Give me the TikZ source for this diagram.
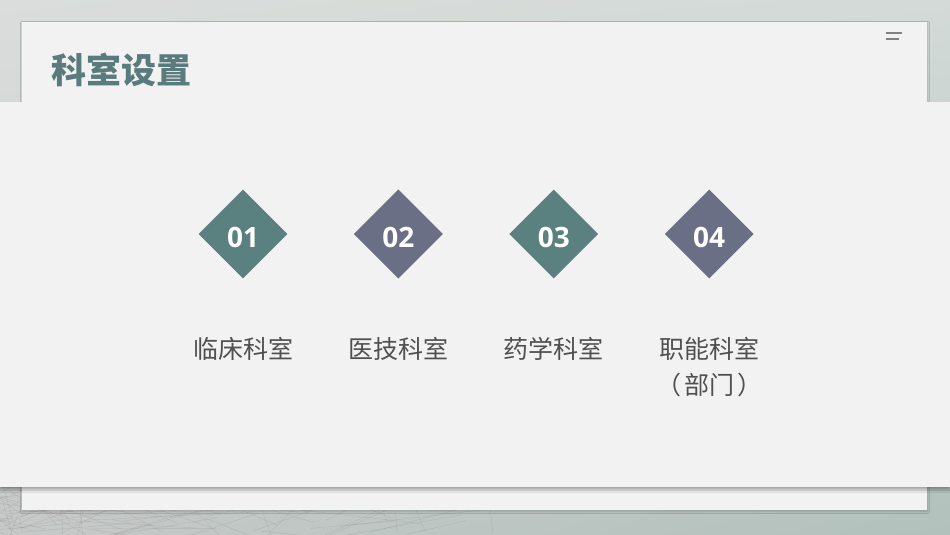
\documentclass[tikz,border=0pt]{standalone}
\usepackage{fontspec}
\setmainfont{Open Sans}
\newfontfamily\cjk{Noto Sans CJK SC}
\usetikzlibrary{shapes.geometric, positioning, shadows.blur, shadings}
\definecolor{tealdia}{HTML}{5B8080}
\definecolor{slatedia}{HTML}{6B6F85}
\definecolor{titlecol}{HTML}{5A7B7D}
\definecolor{panelcol}{HTML}{F2F2F2}
\definecolor{deptcol}{HTML}{505050}
\definecolor{bgul}{HTML}{DADDDB}
\definecolor{bgur}{HTML}{D3DAD7}
\definecolor{bgll}{HTML}{C6C9C8}
\definecolor{bglr}{HTML}{B2C1BC}

\begin{document}
\begin{tikzpicture}[x=1pt, y=-1pt, diam/.style={diamond, aspect=1, minimum width=89pt, minimum height=89pt, inner sep=0pt, text=white, text height=26pt, text depth=0pt, font=\fontsize{28}{28}\selectfont\bfseries}, dept/.style={font=\cjk\fontsize{25}{36}\selectfont, text=deptcol, align=center, inner sep=0pt}]
    
    %Background
    \useasboundingbox (0,0) rectangle (950,535);
    \shade[upper left=bgul, upper right=bgur, lower left=bgll, lower right=bglr] (0,0) rectangle (950,535);
    \begin{scope}
        \clip (0,480) rectangle (620,535);
        \pgfmathsetseed{11}
        \foreach \i in {1,...,120}{
            \pgfmathsetmacro\xa{rnd*rnd*620}
            \pgfmathsetmacro\xb{\xa+(rnd-0.4)*320}
            \pgfmathsetmacro\ya{470+rnd*75}
            \pgfmathsetmacro\yb{470+rnd*75}
            \draw[black!45, opacity=0.3, line width=0.4pt] (\xa,\ya) -- (\xb,\yb);
        }
    \end{scope}
    
    %Panels
    \fill[panelcol, blur shadow={shadow xshift=0.5pt, shadow yshift=-1.5pt, shadow blur steps=6, shadow opacity=20}] (22,22) rectangle (927,510);
    \fill[panelcol, blur shadow={shadow xshift=0pt, shadow yshift=-3pt, shadow blur steps=8, shadow opacity=30}] (0,102) rectangle (950,487);
    
    %Title
    \node[font=\cjk\bfseries\fontsize{35}{35}\selectfont, text=titlecol, anchor=west, inner sep=0pt](title) at (51.5,70){科室设置};
    \draw[gray, line width=1.3pt] (886,33) -- (902,33);
    \draw[gray, line width=1.3pt] (886,39) -- (899,39);
    
    %Diamonds
    \node[diam, fill=tealdia](d1) at (243,234){01};
    \node[diam, fill=slatedia](d2)[right=66pt of d1]{02};
    \node[diam, fill=tealdia](d3)[right=66pt of d2]{03};
    \node[diam, fill=slatedia](d4)[right=66pt of d3]{04};
    
    %Labels
    \node[dept](clinic)[below=58pt of d1]{临床科室};
    \node[dept](medtech)[below=58pt of d2]{医技科室};
    \node[dept](pharm)[below=58pt of d3]{药学科室};
    \node[dept](admin)[below=58pt of d4]{职能科室\\（\hspace{3pt}部门\hspace{3pt}）};
    
\end{tikzpicture}
\end{document}
